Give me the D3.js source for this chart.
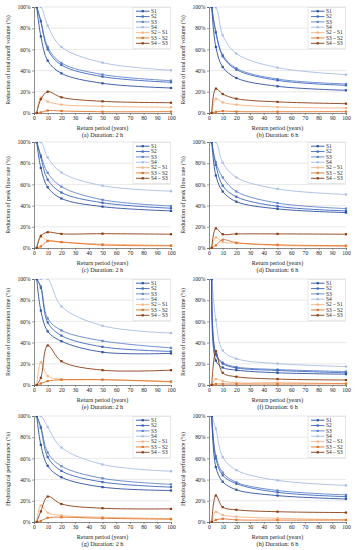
<!DOCTYPE html>
<html><head><meta charset="utf-8">
<script src="https://cdn.jsdelivr.net/npm/d3@7"></script>
<style>body{margin:0;background:#fff}svg{display:block}</style>
</head><body>
<svg id="c" width="355" height="550"></svg>
<script>
const returnPeriods = [2, 5, 10, 20, 50, 100];
const seriesNames = ["S1", "S2", "S3", "S4", "S2 \u2013 S1", "S3 \u2013 S2", "S4 \u2013 S3"];
const xTicks = [0,10,20,30,40,50,60,70,80,90,100];
const yTicks = [0,20,40,60,80,100];
const yTitles = ["Reduction of total runoff volume (%)", "Reduction of peak flow rate (%)",
                 "Reduction of concentration time (%)", "Hydrological performance (%)"];
const captions = ["(a) Duration: 2 h","(b) Duration: 6 h","(c) Duration: 2 h","(d) Duration: 6 h",
                  "(e) Duration: 2 h","(f) Duration: 6 h","(g) Duration: 2 h","(h) Duration: 6 h"];

// each panel: S1, S2, S3, S4, S2-S1, S3-S2, S4-S3 (values in %)
const panelA = [
  [100, 72.3, 49.4, 37.4, 28.0, 23.6],
  [100, 86.5, 60.0, 45.3, 34.3, 29.0],
  [100, 87.0, 62.3, 47.2, 36.3, 30.5],
  [100, 100, 82.4, 62.3, 47.5, 40.3],
  [0, 14.5, 10.8, 7.9, 6.3, 5.4],
  [0, 0.5, 2.3, 1.9, 1.2, 1.3],
  [0, 13.0, 20.1, 14.8, 11.0, 9.7]
];
const panelB = [
  [100, 62.3, 43.4, 33.0, 25.2, 21.4],
  [100, 75.8, 53.5, 40.9, 30.8, 26.1],
  [100, 76.7, 54.7, 42.1, 32.0, 27.4],
  [100, 99.7, 73.3, 56.0, 42.8, 36.2],
  [0, 13.5, 10.0, 7.9, 5.6, 4.7],
  [0, 1.0, 1.8, 1.3, 1.2, 1.3],
  [0, 23.0, 17.9, 13.5, 10.5, 8.8]
];
const panelC = [
  [100, 75.5, 57.3, 46.7, 39.0, 35.0],
  [100, 85.8, 64.4, 52.3, 42.7, 37.5],
  [100, 87.3, 70.9, 57.9, 45.5, 39.6],
  [100, 100, 85.4, 71.2, 58.8, 53.6],
  [0, 10.3, 7.0, 5.6, 3.7, 2.5],
  [0, 1.5, 6.5, 5.6, 2.8, 2.1],
  [0, 11.5, 14.9, 13.3, 13.5, 13.0]
];
const panelD = [
  [100, 68.4, 53.3, 43.7, 36.9, 33.4],
  [100, 78.3, 58.8, 48.3, 39.3, 35.0],
  [100, 80.8, 66.6, 53.3, 42.4, 37.2],
  [100, 100, 80.5, 66.6, 55.7, 50.5],
  [0, 10.0, 5.5, 4.6, 2.4, 1.6],
  [0, 2.5, 7.8, 5.0, 3.0, 2.2],
  [0, 18.5, 13.0, 13.3, 13.3, 13.0]
];
const panelE = [
  [100, 70.2, 50.6, 41.3, 31.0, 29.8],
  [100, 91.6, 59.0, 46.6, 36.0, 31.7],
  [100, 93.0, 62.7, 51.5, 41.6, 35.0],
  [100, 100, 100, 74.2, 55.9, 49.0],
  [0, 21.4, 8.4, 5.3, 5.0, 2.8],
  [0, 1.4, 3.7, 4.9, 5.0, 3.3],
  [0, 6.8, 37.3, 22.4, 14.0, 14.0]
];
const panelF = [
  [100, 23.0, 16.5, 14.0, 11.5, 10.2],
  [100, 28.6, 20.2, 16.1, 13.7, 11.5],
  [100, 29.5, 21.1, 17.0, 14.6, 12.7],
  [100, 61.5, 32.6, 24.8, 20.2, 17.4],
  [0, 5.6, 3.7, 2.1, 2.2, 1.3],
  [0, 0.9, 0.9, 0.9, 0.9, 1.2],
  [0, 32.0, 11.5, 7.8, 5.6, 4.7]
];
const panelG = [
  [100, 72.8, 53.0, 42.2, 32.9, 29.7],
  [100, 88.8, 61.3, 48.2, 37.7, 32.9],
  [100, 89.8, 65.5, 52.7, 41.2, 35.5],
  [100, 100, 89.5, 70.3, 54.3, 47.9],
  [0, 15.5, 8.8, 6.1, 4.5, 3.2],
  [0, 1.0, 4.0, 4.5, 3.5, 2.6],
  [0, 10.0, 24.0, 17.0, 13.0, 12.4]
];
const panelH = [
  [100, 51.8, 38.0, 30.4, 24.9, 21.7],
  [100, 60.0, 44.1, 36.1, 28.0, 23.9],
  [100, 62.3, 46.6, 37.4, 29.7, 25.6],
  [100, 88.0, 61.3, 48.9, 39.3, 34.5],
  [0, 9.5, 6.5, 5.0, 3.5, 2.2],
  [0, 2.0, 3.0, 2.0, 1.8, 1.8],
  [0, 25.0, 14.0, 11.5, 9.7, 8.9]
];
const panels = [panelA, panelB, panelC, panelD, panelE, panelF, panelG, panelH];
const colors = ["#2b50a0", "#3c66bf", "#6285cc", "#a8bde4", "#f5b382", "#e0732a", "#8a3c12"];

const svg = d3.select("#c");
svg.append("rect").attr("width",355).attr("height",550).attr("fill","#fff");
const font = "'Liberation Serif','Times New Roman',serif";
const colX = [34, 209];
const rowY = [7, 142, 279, 416];
const pw = 137, ph = 106;

panels.forEach((data, i) => {
  const col = i % 2, row = Math.floor(i / 2);
  const left = colX[col], top = rowY[row];
  const x = d3.scaleLinear().domain([0,100]).range([left, left+pw]);
  const y = d3.scaleLinear().domain([0,100]).range([top+ph, top]);
  const g = svg.append("g");
  const cid = "clip"+i;
  svg.append("clipPath").attr("id",cid).append("rect")
    .attr("x",left).attr("y",top).attr("width",pw+2).attr("height",ph+1);
  // gridlines
  g.selectAll(".grid").data(yTicks.slice(1)).join("line")
    .attr("x1",left).attr("x2",left+pw).attr("y1",d=>y(d)).attr("y2",d=>y(d))
    .attr("stroke","#d9d9d9").attr("stroke-width",0.6);
  // axes
  const xa = g.append("g").attr("transform",`translate(0,${top+ph})`)
    .call(d3.axisBottom(x).tickValues(xTicks).tickSize(2).tickPadding(1.5));
  const ya = g.append("g").attr("transform",`translate(${left},0)`)
    .call(d3.axisLeft(y).tickValues(yTicks).tickFormat(d=>d+"%").tickSize(2).tickPadding(1.5));
  [xa, ya].forEach(a => {
    a.select(".domain").attr("stroke","#595959").attr("stroke-width",0.7);
    a.selectAll(".tick line").attr("stroke","#595959").attr("stroke-width",0.6);
    a.selectAll("text").attr("font-family",font).attr("font-size",5.6).attr("fill","#222");
  });
  // lines
  const line = d3.line().x((d,j)=>x(returnPeriods[j])).y(d=>y(d)).curve(d3.curveCatmullRom.alpha(0.5));
  const lg = g.append("g").attr("clip-path",`url(#${cid})`);
  // draw S4 first so darker on top; draw in reverse order
  [3,2,1,0,4,5,6].forEach(k => {
    lg.append("path").attr("d", line(data[k])).attr("fill","none")
      .attr("stroke", colors[k]).attr("stroke-width", 0.9);
    lg.selectAll(null).data(data[k]).join("rect")
      .attr("x",(d,j)=>x(returnPeriods[j])-1.1).attr("y",d=>y(d)-1.1)
      .attr("width",2.2).attr("height",2.2).attr("fill",colors[k]);
  });
  // legend
  const lx = left+pw-38, ly = top+0.5;
  g.append("rect").attr("x",lx).attr("y",ly).attr("width",37.5).attr("height",41)
    .attr("fill","#fff").attr("stroke","#d0d0d0").attr("stroke-width",0.5);
  seriesNames.forEach((nm,k) => {
    const yy = ly + 3.7 + k*5.35;
    g.append("line").attr("x1",lx+3).attr("x2",lx+16.5).attr("y1",yy).attr("y2",yy)
      .attr("stroke",colors[k]).attr("stroke-width",0.9);
    g.append("rect").attr("x",lx+9.75-1.1).attr("y",yy-1.1).attr("width",2.2).attr("height",2.2).attr("fill",colors[k]);
    g.append("text").attr("x",lx+18).attr("y",yy+1.8).text(nm)
      .attr("font-family",font).attr("font-size",5.4).attr("fill","#222");
  });
  // titles
  g.append("text").attr("x",left+pw/2).attr("y",top+ph+17.2).attr("text-anchor","middle")
    .attr("font-family",font).attr("font-size",6).attr("fill","#222").text("Return period (years)");
  g.append("text").attr("x",left+pw/2).attr("y",top+ph+24.2).attr("text-anchor","middle")
    .attr("font-family",font).attr("font-size",6.2).attr("fill","#222").text(captions[i]);
  g.append("text").attr("transform",`translate(${left-26},${top+ph/2}) rotate(-90)`)
    .attr("text-anchor","middle").attr("dy","0.35em")
    .attr("font-family",font).attr("font-size",6).attr("fill","#222").text(yTitles[row]);
});
</script>
</body></html>
